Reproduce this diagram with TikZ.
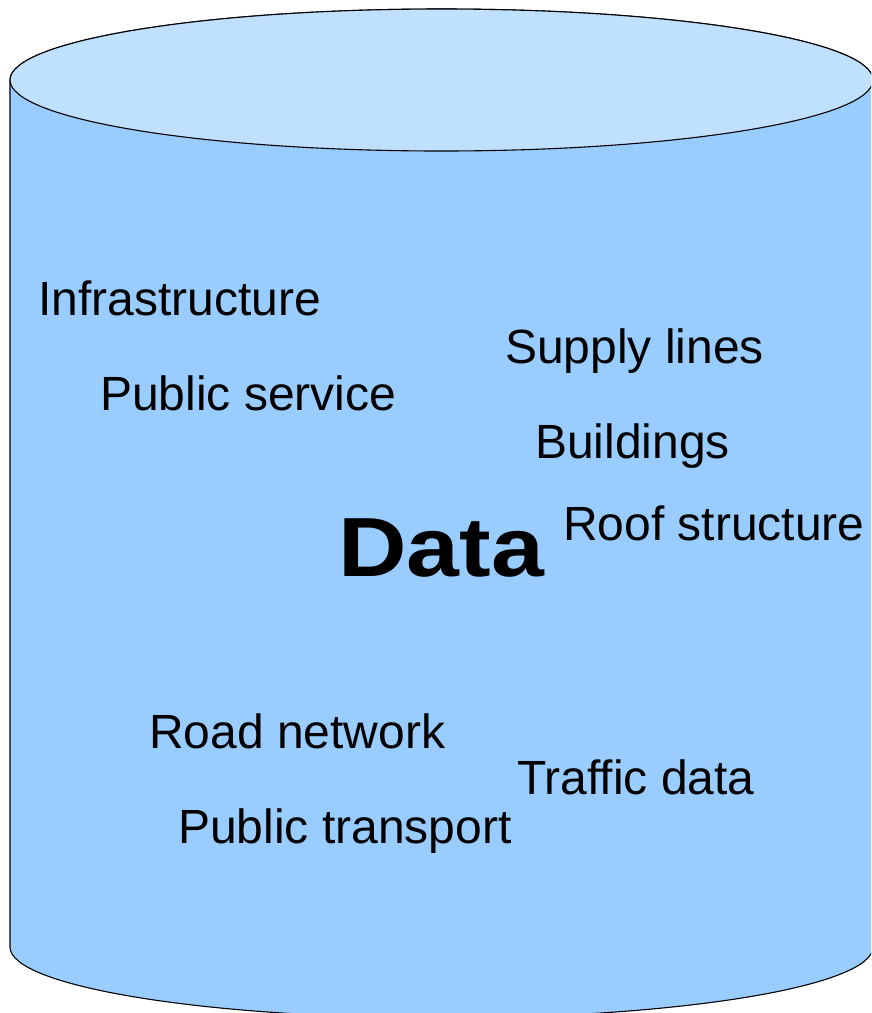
\documentclass[tikz,border=0pt]{standalone}
\usepackage{fontspec}
\setmainfont{Liberation Sans}
\usepackage{tikz}
\definecolor{drumside}{HTML}{99CCFF}
\definecolor{drumtop}{HTML}{C0E0FF}

\begin{document}
\begin{tikzpicture}[
  x=1pt, y=-1pt,
  drum/.style={draw=black, line width=1.1pt},
  item/.style={anchor=base west, inner sep=0pt, font=\fontsize{48}{57}\selectfont},
  title/.style={anchor=base west, inner sep=0pt, font=\fontsize{84}{100}\selectfont\bfseries}
]
\useasboundingbox (0,0) rectangle (871,1013);
\clip (0,0) rectangle (871,1013);
% body of the drum
\draw[drum, fill=drumside] (10,80) -- (10,947)
  arc[start angle=180, end angle=360, x radius=431.5pt, y radius=71pt]
  -- (873,80)
  arc[start angle=0, end angle=180, x radius=431.5pt, y radius=71pt] -- cycle;
% lid
\draw[drum, fill=drumtop] (441.5,80) ellipse[x radius=431.5pt, y radius=71pt];
% stored items
\node[item] (infra) at (38,315) {Infrastructure};
\node[item] (pub) at (100,410) {Public service};
\node[item] (supply) at (505,363) {Supply lines};
\node[item] (bldg) at (535,458) {Buildings};
\node[item] (roof) at (563,540) {Roof structure};
\node[title] (data) at (338,576) {\scalebox{1.13}[1]{Data}};
\node[item] (road) at (149,748) {Road network};
\node[item] (traffic) at (517,794) {Traffic data};
\node[item] (transp) at (178,843) {Public transport};
\end{tikzpicture}
\end{document}
